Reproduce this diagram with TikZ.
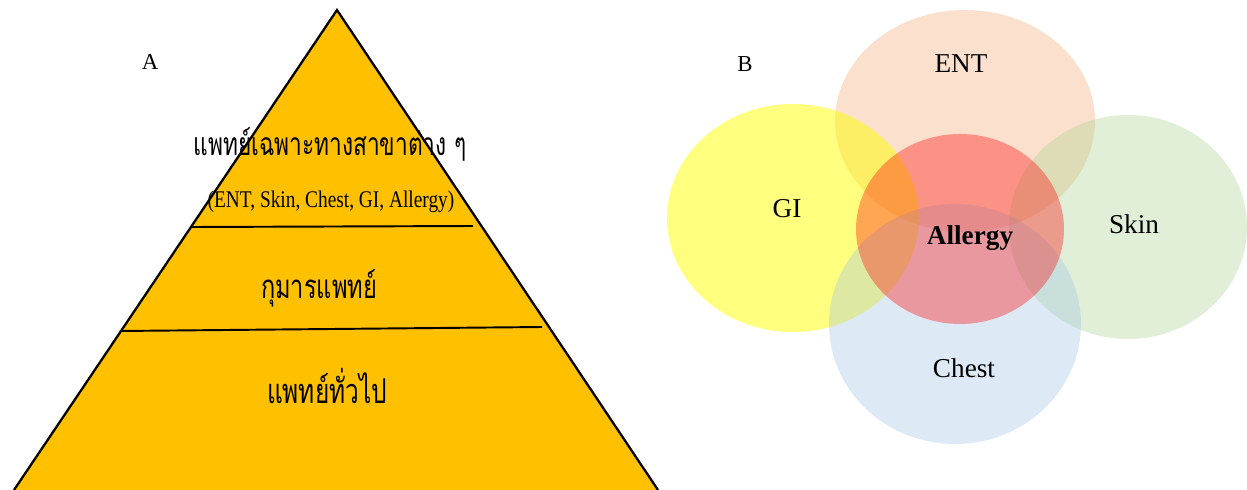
\documentclass[tikz,border=0pt]{standalone}
\usepackage{fontspec}
\usepackage{graphicx}
\setmainfont{Liberation Serif}
\newfontfamily\thaifont[Script=Thai]{Loma}

\definecolor{pyrfill}{HTML}{FFC000}
\definecolor{entc}{HTML}{F4B183}
\definecolor{gic}{HTML}{FFFF00}
\definecolor{skinc}{HTML}{A9D18E}
\definecolor{chestc}{HTML}{9DC3E6}
\definecolor{allc}{HTML}{FF0000}

% Thai text fitted to a given width, then stretched upright
\newcommand{\thaiwide}[2]{\scalebox{1}[1.4]{\resizebox{#1}{!}{\thaifont #2}}}

\tikzset{
  edge/.style={line width=1.3pt, line join=miter},
  divider/.style={line width=1.1pt},
  tierlabel/.style={anchor=base, inner sep=0pt},
  panel/.style={anchor=base, inner sep=0pt, font=\fontsize{13}{15}\selectfont},
  setlabel/.style={anchor=base, inner sep=0pt, font=\fontsize{15.5}{18}\selectfont},
}

\begin{document}
\begin{tikzpicture}[x=0.02cm, y=-0.02cm]
\useasboundingbox (0,0) rectangle (1247,490);

% ---- A: pyramid of care levels ----
\coordinate (apex) at (337,10);
\coordinate (bl) at (14,490);
\coordinate (br) at (658,490);
\fill[pyrfill] (bl) -- (apex) -- (br) -- cycle;
\draw[edge] (bl) -- (apex) -- (br);

\coordinate (d1l) at (192,227);
\coordinate (d1r) at (473,226);
\coordinate (d2l) at (120,331);
\coordinate (d2r) at (542,327);
\draw[divider] (d1l) -- (d1r);
\draw[divider] (d2l) -- (d2r);

\node[panel] (labA) at (150,69) {A};

\node[tierlabel] (spec) at (330,155) {\thaiwide{5.46cm}{แพทย์เฉพาะทางสาขาต่าง ๆ}};
\node[tierlabel] (speclist) at (331,207)
  {\scalebox{0.81}[1]{\fontsize{13.6}{16}\selectfont (ENT, Skin, Chest, GI, Allergy)}};
\node[tierlabel] (ped) at (319,298) {\thaiwide{2.32cm}{กุมารแพทย์}};
\node[tierlabel] (gp) at (327,403) {\thaiwide{2.40cm}{แพทย์ทั่วไป}};

% ---- B: overlapping specialties ----
\fill[entc, fill opacity=0.4]   (965,121) ellipse [x radius=130, y radius=111];
\fill[gic, fill opacity=0.5]    (793,218) ellipse [x radius=126, y radius=114];
\fill[skinc, fill opacity=0.35] (1128,227) ellipse [x radius=119, y radius=112];
\fill[chestc, fill opacity=0.35](955,324) ellipse [x radius=126, y radius=120];
\fill[allc, fill opacity=0.35]  (960,229) ellipse [x radius=104, y radius=95];

\node[panel] (labB) at (745,71) {B};
\node[setlabel] (ent) at (961,72) {ENT};
\node[setlabel] (gi) at (787,217) {GI};
\node[setlabel] (skin) at (1134,233) {Skin};
\node[setlabel] (allergy) at (970,244) {\bfseries Allergy};
\node[setlabel] (chest) at (964,377) {Chest};
\end{tikzpicture}
\end{document}
